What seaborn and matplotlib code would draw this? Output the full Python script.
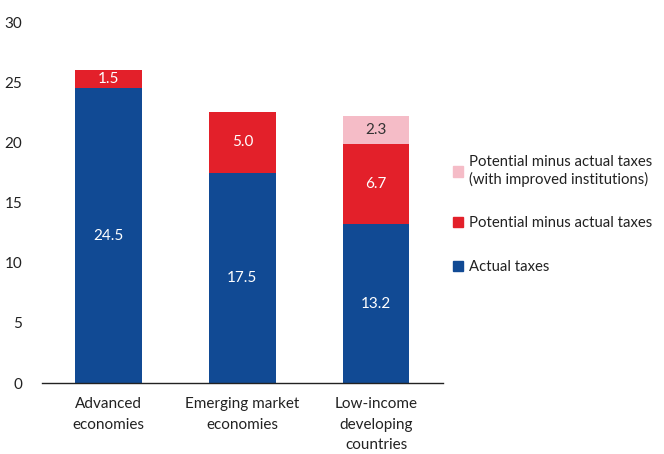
import numpy as np
import pandas as pd
import matplotlib
matplotlib.use('Agg')
import matplotlib.pyplot as plt
import seaborn as sns
from matplotlib.patches import Patch

# ── data ──────────────────────────────────────────────────────────────────────
CATEGORIES = ["Advanced\neconomies", "Emerging market\neconomies", "Low-income\ndeveloping\ncountries"]
ACTUAL     = [24.5, 17.5, 13.2]
GAP        = [1.5, 5.0, 6.7]
GAP_INST   = [0.0, 0.0, 2.3]

SERIES = ["Actual taxes", "Potential minus actual taxes",
          "Potential minus actual taxes\n(with improved institutions)"]
COLORS = {"blue": "#114a94", "red": "#e3202a", "pink": "#f5bcc7"}

sns.set_theme(style="white")
plt.rcParams['font.family'] = ['Lato', 'DejaVu Sans']

df = pd.DataFrame({"cat": CATEGORIES, "actual": ACTUAL, "gap": GAP, "inst": GAP_INST})
df["top1"] = df["actual"] + df["gap"]
df["top2"] = df["top1"] + df["inst"]

fig = plt.figure(figsize=(6.64, 4.54), dpi=100)
ax = fig.add_axes([0.063, 0.156, 0.604, 0.7955])

# layered cumulative bars (largest first)
for col, c in [("top2", "pink"), ("top1", "red"), ("actual", "blue")]:
    sns.barplot(data=df, x="cat", y=col, color=COLORS[c], width=0.5, saturation=1,
                linewidth=0, edgecolor=COLORS[c], ax=ax)

# segment labels
for i, r in df.iterrows():
    ax.text(i, r["actual"] / 2, f"{r['actual']:.1f}", ha="center", va="center",
            color="white", fontsize=11)
    ax.text(i, r["actual"] + r["gap"] / 2, f"{r['gap']:.1f}", ha="center", va="center",
            color="white", fontsize=11)
    if r["inst"] > 0:
        ax.text(i, r["top1"] + r["inst"] / 2, f"{r['inst']:.1f}", ha="center", va="center",
                color="#333333", fontsize=11)

ax.set_xlim(-0.5, 2.5)
ax.set_ylim(0, 30)
ax.set_yticks(range(0, 31, 5))
ax.set_xlabel(""); ax.set_ylabel("")
ax.set_xticks([0, 1, 2])
ax.set_xticklabels(CATEGORIES, fontsize=11, color="#222222", linespacing=1.6)
ax.set_xticks([-0.5, 0.5, 1.5, 2.5], minor=True)
ax.tick_params(axis="x", which="major", length=0, pad=10)
ax.tick_params(axis="x", which="minor", length=4, direction="out", width=1, color="#222222")
ax.tick_params(axis="y", length=0, labelsize=11, labelcolor="#222222", pad=14)
for s in ["top", "right", "left"]:
    ax.spines[s].set_visible(False)
ax.spines["bottom"].set_color("#222222")
ax.spines["bottom"].set_linewidth(1)

handles = [Patch(color=COLORS["pink"]), Patch(color=COLORS["red"]), Patch(color=COLORS["blue"])]
fig.legend(handles, [SERIES[2], SERIES[1], SERIES[0]], loc="center left",
           bbox_to_anchor=(0.662, 0.527), frameon=False, fontsize=10.7,
           handlelength=0.7, handleheight=0.7, handletextpad=0.4, labelspacing=2.0,
           labelcolor="#222222")

plt.savefig("out.png", dpi=100)
